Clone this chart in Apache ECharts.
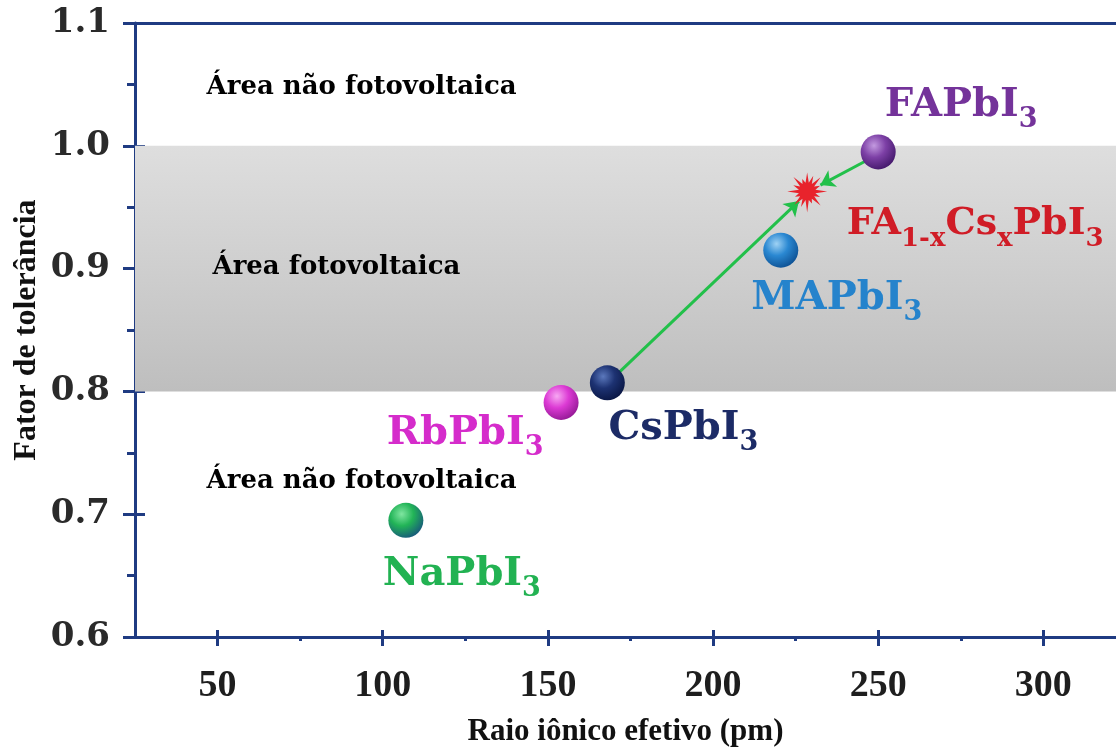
<!DOCTYPE html>
<html><head><meta charset="utf-8">
<script src="https://cdn.jsdelivr.net/npm/echarts@6/dist/echarts.min.js"></script>
<style>html,body{margin:0;padding:0;background:#fff;}#c{width:1116px;height:756px;}</style>
</head><body><div id="c"></div>
<script>
// ---- data ----
const compounds = ['NaPbI3', 'RbPbI3', 'CsPbI3', 'MAPbI3', 'FAPbI3'];
const radius = [107, 154, 168, 220.5, 250];          // effective ionic radius (pm)
const tolerance = [0.695, 0.791, 0.807, 0.915, 0.995]; // tolerance factor
const mixedName = 'FA1-xCsxPbI3';
const mixedRadius = [228.5];
const mixedTolerance = [0.962];
const arrowFrom = [[171, 0.814], [246.5, 0.988]];
const arrowTo = [[226, 0.955], [232.5, 0.968]];
const regionTexts = ['Área não fotovoltaica', 'Área fotovoltaica', 'Área não fotovoltaica'];
const regionX = [46.5, 48.3, 46.5];
const regionY = [1.048, 0.901, 0.727];
const bandRange = [0.8, 1.0];
const xMajorTicks = [50, 100, 150, 200, 250, 300];
const xMinorTicks = [75, 125, 175, 225, 275];
const yMajorTicks = [0.6, 0.7, 0.8, 0.9, 1.0, 1.1];
const yMinorTicks = [0.65, 0.75, 0.85, 0.95, 1.05];

// ---- styling ----
const AX = '#1f3b82';
const serif = '"Liberation Serif", "Times New Roman", serif';
const wide = '"DejaVu Serif", serif';
const sphereColors = {
  NaPbI3: ['#7fe6a0', '#22b457', '#17527e'],
  RbPbI3: ['#f7a8f2', '#dc3ad4', '#8e1690'],
  CsPbI3: ['#5b78bc', '#1d3272', '#081440'],
  MAPbI3: ['#9fd2f4', '#2a88d2', '#0b4c8e'],
  FAPbI3: ['#c39ae0', '#7d40a6', '#3f1566']
};
const labelColors = {
  NaPbI3: '#22b252', RbPbI3: '#d52ccb', CsPbI3: '#1c2b66', MAPbI3: '#2583cc', FAPbI3: '#74339a'
};
const labelOffsets = {
  NaPbI3: [56, 56], RbPbI3: [-96, 33], CsPbI3: [76, 48], MAPbI3: [56, 50], FAPbI3: [83, -44]
};
function grad(c) {
  return new echarts.graphic.RadialGradient(0.38, 0.32, 0.75, [
    {offset: 0, color: c[0]}, {offset: 0.45, color: c[1]}, {offset: 1, color: c[2]}
  ]);
}
const rich = (col, size) => ({
  m: {color: col, fontSize: size, fontWeight: 'bold', fontFamily: wide, lineHeight: size + 4, verticalAlign: 'top'},
  s: {color: col, fontSize: Math.round(size * 0.68), fontWeight: 'bold', fontFamily: wide, lineHeight: size + 4, verticalAlign: 'top', padding: [21, 0, 0, 0]}
});
function formulaRich(name) {
  if (name === 'FA1-xCsxPbI3') return '{m|FA}{s|1-x}{m|Cs}{s|x}{m|PbI}{s|3}';
  return '{m|' + name.slice(0, -1) + '}{s|' + name.slice(-1) + '}';
}

// star burst symbol path
function starPath() {
  const outer = [1, 0.7, 0.95, 0.62, 1, 0.8, 0.9, 0.66, 1, 0.75, 0.97, 0.64, 0.9, 0.8, 0.95, 0.7];
  const n = outer.length;
  let p = '';
  for (let i = 0; i < n; i++) {
    const a1 = (i / n) * Math.PI * 2, a2 = ((i + 0.5) / n) * Math.PI * 2;
    const r1 = outer[i], r2 = 0.42;
    p += (i === 0 ? 'M' : 'L') + (r1 * Math.cos(a1)).toFixed(3) + ',' + (r1 * Math.sin(a1)).toFixed(3);
    p += 'L' + (r2 * Math.cos(a2)).toFixed(3) + ',' + (r2 * Math.sin(a2)).toFixed(3);
  }
  return 'path://' + p + 'Z';
}

const sphereData = compounds.map((n, i) => ({
  name: n,
  value: [radius[i], tolerance[i]],
  itemStyle: {color: grad(sphereColors[n]), opacity: 1},
  label: {
    show: true, position: 'inside', offset: labelOffsets[n],
    formatter: formulaRich(n), rich: rich(labelColors[n], 40)
  }
}));

const chart = echarts.init(document.getElementById('c'));
const xBase = {type: 'value', min: 25, max: 322, gridIndex: 0, splitLine: {show: false}, position: 'bottom', offset: 0};
const yBase = {type: 'value', min: 0.6, max: 1.1, gridIndex: 0, splitLine: {show: false}, position: 'left', offset: 0};

chart.setOption({
  animation: false,
  backgroundColor: '#ffffff',
  grid: {left: 135, right: 0, top: 23, bottom: 119, containLabel: false, outerBoundsMode: 'none'},
  xAxis: [
    Object.assign({}, xBase, {
      axisLine: {show: true, lineStyle: {color: AX, width: 3}},
      axisTick: {show: true, customValues: xMajorTicks, length: 9, lineStyle: {color: AX, width: 3}},
      axisLabel: {show: true, customValues: xMajorTicks, margin: 30, color: '#1e1e1e',
        fontFamily: serif, fontWeight: 'bold', fontSize: 38},
      name: 'Raio iônico efetivo (pm)', nameLocation: 'middle', nameGap: 79, nameMoveOverlap: false,
      nameTextStyle: {fontFamily: serif, fontWeight: 'bold', fontSize: 31, color: '#111'}
    }),
    Object.assign({}, xBase, {
      axisLine: {show: false},
      axisTick: {show: true, inside: true, customValues: xMajorTicks, length: 7, lineStyle: {color: AX, width: 3}},
      axisLabel: {show: false}
    }),
    Object.assign({}, xBase, {
      axisLine: {show: false},
      axisTick: {show: true, customValues: xMinorTicks, length: 4, lineStyle: {color: AX, width: 3}},
      axisLabel: {show: false}
    }),
    Object.assign({}, xBase, {
      position: 'top',
      axisLine: {show: true, lineStyle: {color: AX, width: 3}},
      axisTick: {show: false}, axisLabel: {show: false}
    })
  ],
  yAxis: [
    Object.assign({}, yBase, {
      axisLine: {show: true, lineStyle: {color: AX, width: 3}},
      axisTick: {show: true, customValues: yMajorTicks, length: 12, lineStyle: {color: AX, width: 3}},
      axisLabel: {show: true, customValues: yMajorTicks, margin: 25, color: '#2a2a2a',
        fontFamily: wide, fontWeight: 'bold', fontSize: 34, formatter: v => v.toFixed(1)},
      name: 'Fator de tolerância', nameLocation: 'middle', nameGap: 92, nameRotate: 90, nameMoveOverlap: false,
      nameTextStyle: {fontFamily: serif, fontWeight: 'bold', fontSize: 32, color: '#111'}
    }),
    Object.assign({}, yBase, {
      axisLine: {show: false},
      axisTick: {show: true, inside: true, customValues: yMajorTicks, length: 10, lineStyle: {color: AX, width: 3}},
      axisLabel: {show: false}
    }),
    Object.assign({}, yBase, {
      axisLine: {show: false},
      axisTick: {show: true, customValues: yMinorTicks, length: 8, lineStyle: {color: AX, width: 3}},
      axisLabel: {show: false}
    })
  ],
  series: [
    {
      type: 'scatter', name: 'band', xAxisIndex: 0, yAxisIndex: 0, data: [], silent: true, z: 1,
      markArea: {
        silent: true,
        itemStyle: {
          opacity: 1,
          color: new echarts.graphic.LinearGradient(0, 0, 0, 1, [
            {offset: 0, color: '#dedede'}, {offset: 0.55, color: '#cdcdcd'}, {offset: 1, color: '#bebebe'}
          ])
        },
        data: [[{yAxis: bandRange[0]}, {yAxis: bandRange[1]}]]
      }
    },
    {
      type: 'scatter', name: 'regions', xAxisIndex: 0, yAxisIndex: 0, symbolSize: 1, z: 3,
      itemStyle: {color: 'rgba(0,0,0,0)', opacity: 1},
      data: regionTexts.map((t, i) => [regionX[i], regionY[i], t]),
      label: {show: true, position: 'right', distance: 0, formatter: p => p.value[2],
        color: '#000', fontFamily: wide, fontWeight: 'bold', fontSize: 26}
    },
    {
      type: 'lines', coordinateSystem: 'cartesian2d', xAxisIndex: 0, yAxisIndex: 0, z: 4,
      symbol: ['none', 'arrow'], symbolSize: 14,
      lineStyle: {color: '#22c04a', width: 3, opacity: 1},
      data: arrowFrom.map((f, i) => ({coords: [f, arrowTo[i]]}))
    },
    {
      type: 'scatter', name: 'mixed', xAxisIndex: 0, yAxisIndex: 0, z: 5,
      symbol: starPath(), symbolSize: 40,
      itemStyle: {color: '#e8232c', opacity: 1},
      data: mixedRadius.map((x, i) => ({
        name: mixedName, value: [x, mixedTolerance[i]],
        label: {show: true, position: 'inside', offset: [168, 34],
          formatter: formulaRich(mixedName), rich: rich('#d01c26', 38)}
      }))
    },
    {
      type: 'scatter', name: 'compounds', xAxisIndex: 0, yAxisIndex: 0, z: 6,
      symbol: 'circle', symbolSize: 35,
      itemStyle: {opacity: 1},
      data: sphereData
    }
  ]
});
</script></body></html>
